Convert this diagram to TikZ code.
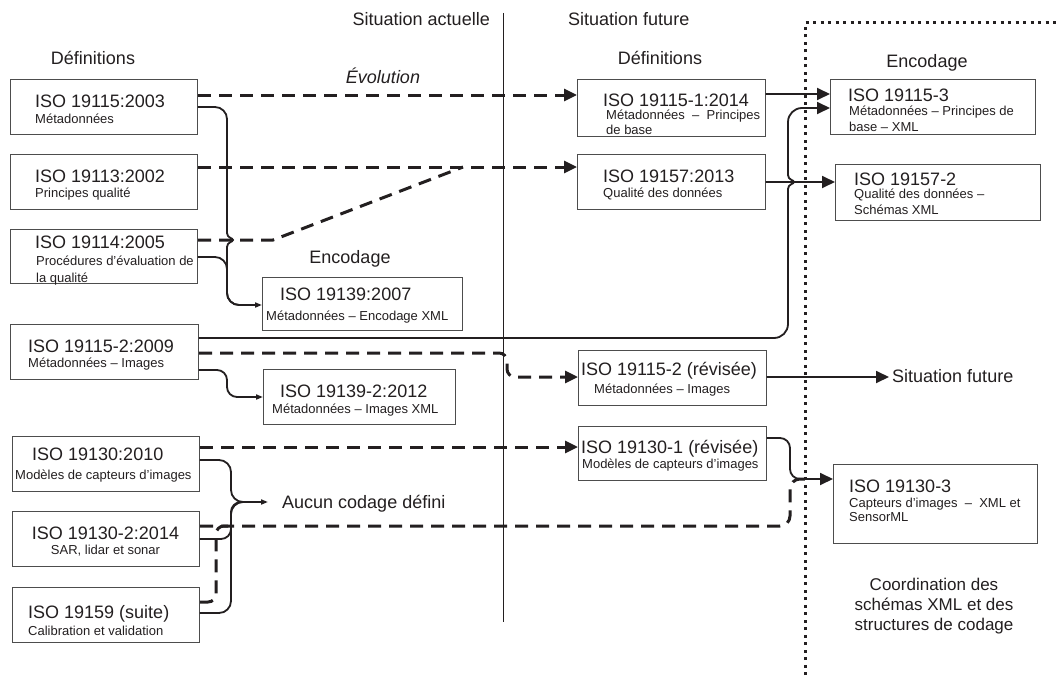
\documentclass[tikz,border=0pt]{standalone}
\usepackage{fontspec}
\setmainfont{Liberation Sans}
\usetikzlibrary{arrows.meta}
\definecolor{ink}{HTML}{231F20}
\definecolor{frame}{HTML}{4D4D4D}
\begin{document}
\begin{tikzpicture}[x=1pt,y=-1pt,
  box/.style={draw=frame, line width=1.2pt, fill=white, inner sep=0pt, anchor=north west},
  ttl/.style={font=\fontsize{18}{20}\selectfont, text=ink, inner sep=0pt, anchor=base west},
  sub/.style={font=\fontsize{13}{15}\selectfont, text=ink, inner sep=0pt, anchor=base west},
  hdr/.style={font=\fontsize{18}{20}\selectfont, text=ink, inner sep=0pt},
  solidc/.style={draw=ink, line width=1.8pt, line cap=round},
  dashc/.style={draw=ink, line width=3pt, dash pattern=on 13pt off 8pt},
  bigtip/.style={-{Triangle[length=13pt,width=12pt]}},
  smalltip/.style={-{Triangle[length=7pt,width=5pt]}}]
\useasboundingbox[fill=white] (0,0) rectangle (1057,677);

% divider and dotted frame
\draw[ink, line width=1pt] (503,13) -- (503,622);
\draw[ink, line width=3pt, dash pattern=on 3pt off 4.5pt] (805,675) -- (805,23) -- (1057,23);

% headers
\node[hdr, anchor=base east] (hact) at (490,26) {Situation actuelle};
\node[hdr, anchor=base west] (hfut) at (568,26) {Situation future};
\node[hdr, anchor=base] (hdefl) at (93,64) {Définitions};
\node[hdr, anchor=base] (hdefr) at (660,64) {Définitions};
\node[hdr, anchor=base] (hevo) at (383,83) {\itshape Évolution};
\node[hdr, anchor=base] (hencm) at (350,263) {Encodage};
\node[hdr, anchor=base] (hencr) at (927,67) {Encodage};
\node[hdr, anchor=base west] (aucun) at (282,508) {Aucun codage défini};
\node[hdr, anchor=base west] (sitfut) at (892,382) {Situation future};
\node[hdr, anchor=base, font=\fontsize{17}{20}\selectfont, align=center] (coord) at (934,630)
  {Coordination des\\schémas XML et des\\structures de codage};

% boxes
\node[box, minimum width=187pt, minimum height=55pt] (b1) at (10,79) {};
\node[box, minimum width=187pt, minimum height=55pt] (b2) at (10,154) {};
\node[box, minimum width=187pt, minimum height=54pt] (b3) at (10,229) {};
\node[box, minimum width=188pt, minimum height=55pt] (b4) at (10,324) {};
\node[box, minimum width=187pt, minimum height=55pt] (b5) at (12,436) {};
\node[box, minimum width=187pt, minimum height=55pt] (b6) at (12,511) {};
\node[box, minimum width=187pt, minimum height=55pt] (b7) at (12,587) {};
\node[box, minimum width=200pt, minimum height=53pt] (e1) at (262,277) {};
\node[box, minimum width=192pt, minimum height=55pt] (e2) at (263,369) {};
\node[box, minimum width=188pt, minimum height=57pt] (f1) at (577,79) {};
\node[box, minimum width=188pt, minimum height=55pt] (f2) at (577,154) {};
\node[box, minimum width=188pt, minimum height=55pt] (f3) at (578,350) {};
\node[box, minimum width=188pt, minimum height=54pt] (f4) at (578,426) {};
\node[box, minimum width=205pt, minimum height=55pt] (r1) at (830,79) {};
\node[box, minimum width=205pt, minimum height=56pt] (r2) at (835,164) {};
\node[box, minimum width=204pt, minimum height=79pt] (r3) at (833,464) {};

% box texts
\node[ttl] (b1t) at (35,107) {ISO 19115:2003};
\node[sub] (b1s) at (35,123) {Métadonnées};
\node[ttl] (b2t) at (35,182) {ISO 19113:2002};
\node[sub] (b2s) at (35,197) {Principes qualité};
\node[ttl] (b3t) at (35,248) {ISO 19114:2005};
\node[sub] (b3s) at (36,265) {Procédures d'évaluation de};
\node[sub] (b3u) at (36,282) {la qualité};
\node[ttl] (b4t) at (28,352) {ISO 19115-2:2009};
\node[sub] (b4s) at (28,367) {Métadonnées – Images};
\node[ttl] (b5t) at (32,460) {ISO 19130:2010};
\node[sub] (b5s) at (15,479) {Modèles de capteurs d'images};
\node[ttl, anchor=base] (b6t) at (105.5,539) {ISO 19130-2:2014};
\node[sub, anchor=base] (b6s) at (105.5,554) {SAR, lidar et sonar};
\node[ttl] (b7t) at (28,618) {ISO 19159 (suite)};
\node[sub] (b7s) at (28,635) {Calibration et validation};
\node[ttl] (e1t) at (280,300) {ISO 19139:2007};
\node[sub] (e1s) at (266,320) {Métadonnées – Encodage XML};
\node[ttl] (e2t) at (280,397) {ISO 19139-2:2012};
\node[sub] (e2s) at (272,413) {Métadonnées – Images XML};
\node[ttl] (f1t) at (603,106) {ISO 19115-1:2014};
\node[sub] (f1s) at (606,119) {Métadonnées \ – \ Principes};
\node[sub] (f1u) at (606,134) {de base};
\node[ttl] (f2t) at (603,182) {ISO 19157:2013};
\node[sub] (f2s) at (603,197) {Qualité des données};
\node[ttl] (f3t) at (581,375) {ISO 19115-2 (révisée)};
\node[sub] (f3s) at (594,393) {Métadonnées – Images};
\node[ttl] (f4t) at (581,453) {ISO 19130-1 (révisée)};
\node[sub] (f4s) at (582,468) {Modèles de capteurs d'images};
\node[ttl] (r1t) at (848,101) {ISO 19115-3};
\node[sub] (r1s) at (849,115) {Métadonnées – Principes de};
\node[sub] (r1u) at (849,131) {base – XML};
\node[ttl] (r2t) at (854,185) {ISO 19157-2};
\node[sub] (r2s) at (854,198) {Qualité des données –};
\node[sub] (r2u) at (854,214) {Schémas XML};
\node[ttl] (r3t) at (849,492) {ISO 19130-3};
\node[sub] (r3s) at (849,507) {Capteurs d'images \ – \ XML et};
\node[sub] (r3u) at (849,521) {SensorML};

% hop coordinates
\coordinate (h1a) at (227,233);
\coordinate (h1b) at (227,247);
\coordinate (h2a) at (788,189);
\coordinate (h2b) at (788,175);

% dashed evolution connectors
\draw[dashc, bigtip] (b1.east |- 0,95) -- (f1.west |- 0,95);
\draw[dashc, bigtip] (b2.east |- 0,167) -- (f2.west |- 0,167);
\draw[dashc] (b3.east |- 0,240) -- (273,240) -- (463,167);
\draw[dashc, bigtip, rounded corners=8pt] (b4.east |- 0,353) -- (507,353) -- (507,377) -- (f3.west |- 0,377);
\draw[dashc, bigtip] (b5.east |- 0,447) -- (f4.west |- 0,447);
\draw[dashc, rounded corners=10pt] (b6.east |- 0,526) -- (790,526) -- (790,479) -- (806,479);
\draw[dashc, rounded corners=8pt] (b7.east |- 0,602) -- (216,602) -- (216,526) -- (236,526);

% solid connectors, current encoding
\draw[solidc, rounded corners=12pt] (b1.east |- 0,107) -- (227,107) -- (h1a);
\draw[solidc] (h1a) .. controls (227,238) and (233,238) .. (233,240)
  .. controls (233,242) and (227,242) .. (h1b);
\draw[solidc, smalltip, rounded corners=12pt] (h1b) -- (227,305) -- (e1.west |- 0,305);
\draw[solidc, rounded corners=12pt] (b3.east |- 0,257) -- (227,257) -- (227,305) -- (245,305);
\draw[solidc, smalltip, rounded corners=10pt] (b4.east |- 0,370) -- (227,370) -- (227,397) -- (e2.west |- 0,397);
\draw[solidc, smalltip, rounded corners=12pt] (b5.east |- 0,460) -- (231,460) -- (231,502) -- ([xshift=-14pt]aucun.west |- 0,502);
\draw[solidc, rounded corners=10pt] (b6.east |- 0,539) -- (231,539) -- (231,502) -- (245,502);
\draw[solidc, rounded corners=12pt] (b7.east |- 0,613) -- (231,613) -- (231,502) -- (245,502);

% solid connectors to future encoding
\draw[solidc, rounded corners=14pt] (b4.east |- 0,338) -- (788,338) -- (h2a);
\draw[solidc] (h2a) .. controls (788,184) and (794,184) .. (794,182)
  .. controls (794,180) and (788,180) .. (h2b);
\draw[solidc, bigtip, rounded corners=14pt] (h2b) -- (788,108) -- (r1.west |- 0,108);
\draw[solidc, bigtip] (f1.east |- 0,94) -- (r1.west |- 0,94);
\draw[solidc, bigtip] (f2.east |- 0,182) -- (r2.west |- 0,182);
\draw[solidc, bigtip] (f3.east |- 0,377) -- ([xshift=-3pt]sitfut.west |- 0,377);
\draw[solidc, bigtip, rounded corners=10pt] (f4.east |- 0,438) -- (790,438) -- (790,479) -- (r3.west |- 0,479);
\end{tikzpicture}
\end{document}
